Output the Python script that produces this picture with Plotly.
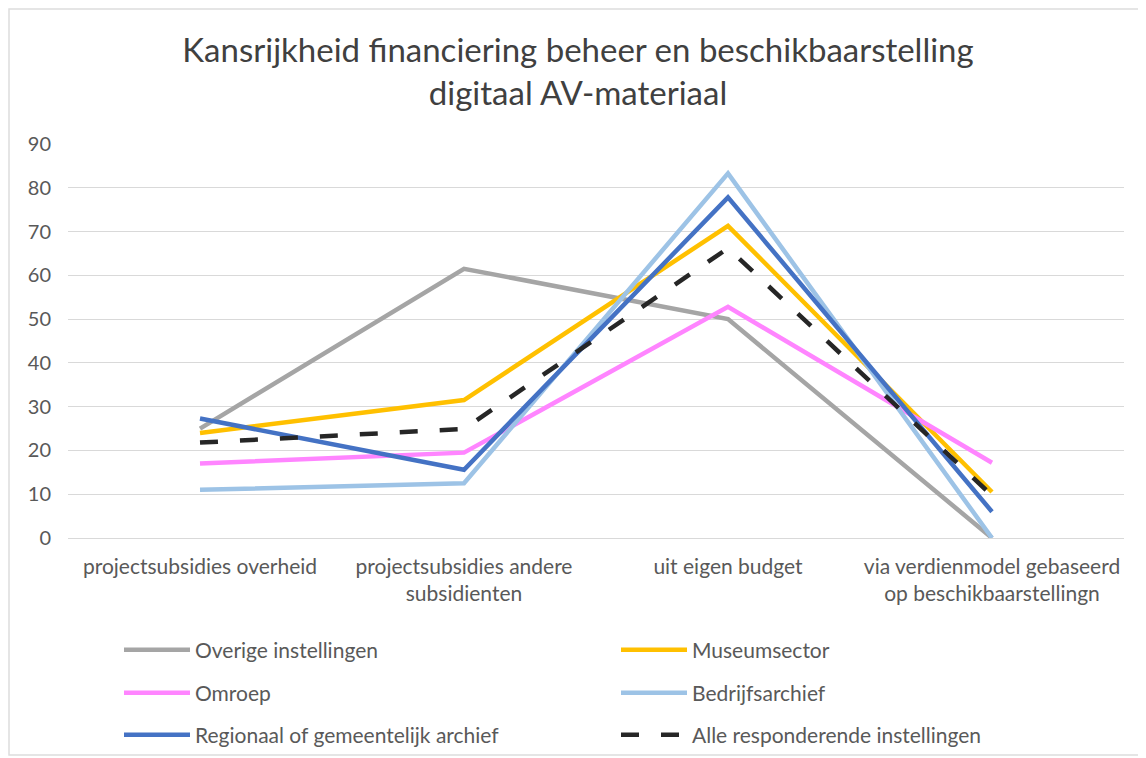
import plotly.graph_objects as go

categories = [
    "projectsubsidies overheid",
    "projectsubsidies andere<br>subsidienten",
    "uit eigen budget",
    "via verdienmodel gebaseerd<br>op beschikbaarstellingn",
]
overige = [25, 61.5, 50, 0]
museum = [24, 31.5, 71.3, 10.5]
omroep = [17, 19.5, 52.8, 17.2]
bedrijf = [11, 12.5, 83.3, 0]
regionaal = [27.3, 15.6, 77.8, 6]
alle = [21.8, 24.9, 66.2, 9.7]

series = [
    ("Overige instellingen", overige, "#A5A5A5", "solid", "legend"),
    ("Museumsector", museum, "#FFC000", "solid", "legend"),
    ("Omroep", omroep, "#FF85FF", "solid", "legend2"),
    ("Bedrijfsarchief", bedrijf, "#9DC3E6", "solid", "legend2"),
    ("Regionaal of gemeentelijk archief", regionaal, "#4472C4", "solid", "legend3"),
    ("Alle responderende instellingen", alle, "#262626", "18px,22px", "legend3"),
]

FONT = "Lato"
fig = go.Figure()
for name, vals, color, dash, lg in series:
    fig.add_trace(go.Scatter(
        x=list(range(len(categories))), y=vals, name=name, mode="lines",
        line=dict(color=color, width=4.5, dash=dash), legend=lg,
    ))

# page body has an 8px margin: work in screen pixels and convert
OFF = 8
W, H = 1146 - OFF, 758 - OFF
P_LEFT, P_RIGHT, P_TOP, P_BOT = 68, 1124, 144, 538  # screen px of plot area
ml, mr, mt, mb = P_LEFT - OFF, W - (P_RIGHT - OFF), P_TOP - OFF, H - (P_BOT - OFF)
ph = P_BOT - P_TOP
pw = P_RIGHT - P_LEFT

def py(sy):
    return (P_BOT - sy) / ph

def px_(sx):
    return (sx - P_LEFT) / pw

legfont = dict(family=FONT, size=21, color="#595959")
common = dict(orientation="h", xanchor="left", yanchor="middle",
              font=legfont, entrywidth=416, entrywidthmode="pixels",
              bgcolor="rgba(0,0,0,0)", itemwidth=66)

fig.update_layout(
    width=W, height=H,
    margin=dict(l=ml, r=mr, t=mt, b=mb, autoexpand=False),
    paper_bgcolor="white", plot_bgcolor="white",
    font=dict(family=FONT, color="#595959"),
    title=dict(
        text="Kansrijkheid financiering beheer en beschikbaarstelling<br>digitaal AV-materiaal",
        x=(578 - OFF) / W, xanchor="center", xref="container",
        y=1 - 54 / H, yanchor="middle", yref="container",
        font=dict(family=FONT, size=33, color="#404040"),
    ),
    xaxis=dict(
        tickmode="array", tickvals=list(range(len(categories))), ticktext=categories,
        range=[-0.5, len(categories) - 0.5], showgrid=False, zeroline=False,
        showline=False, ticks="", tickfont=dict(family=FONT, size=21, color="#595959"),
        ticklabelstandoff=14, automargin=False,
    ),
    yaxis=dict(
        range=[0, 90], dtick=10, showgrid=True, gridcolor="#D9D9D9", gridwidth=1,
        zeroline=True, zerolinecolor="#D9D9D9", zerolinewidth=1, showline=False,
        ticks="", tickfont=dict(family=FONT, size=20, color="#595959"),
        ticklabelstandoff=16, automargin=False,
    ),
    legend=dict(x=px_(119), y=py(650), **common),
    legend2=dict(x=px_(119), y=py(693), **common),
    legend3=dict(x=px_(119), y=py(735), **common),
    shapes=[dict(type="rect", xref="paper", yref="paper",
                 x0=px_(OFF + 1), x1=px_(1145), y0=py(755), y1=py(OFF + 1),
                 line=dict(color="#DDDDDD", width=1.5), layer="below")],
)

fig.write_html("out.html")
